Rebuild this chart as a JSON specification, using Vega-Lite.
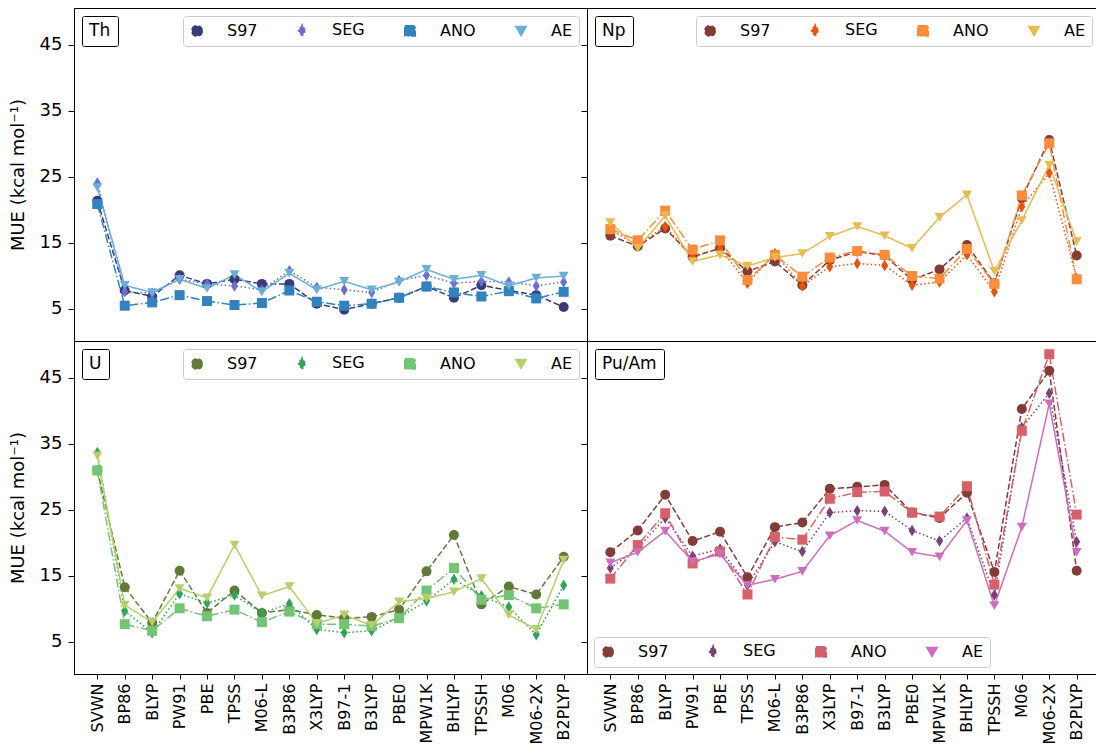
{
"$schema": "https://vega.github.io/schema/vega-lite/v6.json",
"padding": {"left": 8, "top": 7, "right": 0, "bottom": 0},
"config": {
  "font": "DejaVu Sans",
  "view": {"stroke": "black", "strokeWidth": 1},
  "axis": {"grid": false, "domainColor": "black", "tickColor": "black", "labelColor": "black", "titleColor": "black", "tickSize": 6, "labelPadding": 6, "domainWidth": 1, "tickWidth": 1, "titleFontWeight": "normal", "labelFont": "DejaVu Sans", "titleFont": "DejaVu Sans"},
  "legend": {"labelColor": "black", "labelFont": "DejaVu Sans", "titleColor": "black", "titleFont": "DejaVu Sans"}
},
"datasets": {
"th": [
{"m":"S97","f":"SVWN","v":21.4},{"m":"S97","f":"BP86","v":7.8},{"m":"S97","f":"BLYP","v":6.9},{"m":"S97","f":"PW91","v":10.1},{"m":"S97","f":"PBE","v":8.8},{"m":"S97","f":"TPSS","v":9.5},{"m":"S97","f":"M06-L","v":8.8},{"m":"S97","f":"B3P86","v":8.8},{"m":"S97","f":"X3LYP","v":5.8},{"m":"S97","f":"B97-1","v":4.9},{"m":"S97","f":"B3LYP","v":5.8},{"m":"S97","f":"PBE0","v":6.7},{"m":"S97","f":"MPW1K","v":8.4},{"m":"S97","f":"BHLYP","v":6.7},{"m":"S97","f":"TPSSH","v":8.6},{"m":"S97","f":"M06","v":7.8},{"m":"S97","f":"M06-2X","v":7.1},{"m":"S97","f":"B2PLYP","v":5.3},
{"m":"SEG","f":"SVWN","v":24.1},{"m":"SEG","f":"BP86","v":7.6},{"m":"SEG","f":"BLYP","v":7.4},{"m":"SEG","f":"PW91","v":9.5},{"m":"SEG","f":"PBE","v":8.8},{"m":"SEG","f":"TPSS","v":8.5},{"m":"SEG","f":"M06-L","v":7.9},{"m":"SEG","f":"B3P86","v":10.8},{"m":"SEG","f":"X3LYP","v":8.3},{"m":"SEG","f":"B97-1","v":7.9},{"m":"SEG","f":"B3LYP","v":7.5},{"m":"SEG","f":"PBE0","v":9.3},{"m":"SEG","f":"MPW1K","v":10.1},{"m":"SEG","f":"BHLYP","v":8.9},{"m":"SEG","f":"TPSSH","v":9.2},{"m":"SEG","f":"M06","v":9.1},{"m":"SEG","f":"M06-2X","v":8.5},{"m":"SEG","f":"B2PLYP","v":9.1},
{"m":"ANO","f":"SVWN","v":20.9},{"m":"ANO","f":"BP86","v":5.5},{"m":"ANO","f":"BLYP","v":6.0},{"m":"ANO","f":"PW91","v":7.1},{"m":"ANO","f":"PBE","v":6.2},{"m":"ANO","f":"TPSS","v":5.6},{"m":"ANO","f":"M06-L","v":5.9},{"m":"ANO","f":"B3P86","v":7.8},{"m":"ANO","f":"X3LYP","v":6.1},{"m":"ANO","f":"B97-1","v":5.5},{"m":"ANO","f":"B3LYP","v":5.8},{"m":"ANO","f":"PBE0","v":6.7},{"m":"ANO","f":"MPW1K","v":8.4},{"m":"ANO","f":"BHLYP","v":7.5},{"m":"ANO","f":"TPSSH","v":6.9},{"m":"ANO","f":"M06","v":7.7},{"m":"ANO","f":"M06-2X","v":6.6},{"m":"ANO","f":"B2PLYP","v":7.6},
{"m":"AE","f":"SVWN","v":23.4},{"m":"AE","f":"BP86","v":8.6},{"m":"AE","f":"BLYP","v":7.5},{"m":"AE","f":"PW91","v":9.5},{"m":"AE","f":"PBE","v":8.1},{"m":"AE","f":"TPSS","v":10.2},{"m":"AE","f":"M06-L","v":7.6},{"m":"AE","f":"B3P86","v":10.4},{"m":"AE","f":"X3LYP","v":7.9},{"m":"AE","f":"B97-1","v":9.2},{"m":"AE","f":"B3LYP","v":7.9},{"m":"AE","f":"PBE0","v":9.1},{"m":"AE","f":"MPW1K","v":11.0},{"m":"AE","f":"BHLYP","v":9.5},{"m":"AE","f":"TPSSH","v":10.1},{"m":"AE","f":"M06","v":8.5},{"m":"AE","f":"M06-2X","v":9.7},{"m":"AE","f":"B2PLYP","v":10.0}
],
"np": [
{"m":"S97","f":"SVWN","v":16.1},{"m":"S97","f":"BP86","v":14.5},{"m":"S97","f":"BLYP","v":17.2},{"m":"S97","f":"PW91","v":12.9},{"m":"S97","f":"PBE","v":14.2},{"m":"S97","f":"TPSS","v":10.7},{"m":"S97","f":"M06-L","v":12.2},{"m":"S97","f":"B3P86","v":8.6},{"m":"S97","f":"X3LYP","v":12.4},{"m":"S97","f":"B97-1","v":13.7},{"m":"S97","f":"B3LYP","v":13.1},{"m":"S97","f":"PBE0","v":9.4},{"m":"S97","f":"MPW1K","v":11.0},{"m":"S97","f":"BHLYP","v":14.7},{"m":"S97","f":"TPSSH","v":8.9},{"m":"S97","f":"M06","v":21.8},{"m":"S97","f":"M06-2X","v":30.6},{"m":"S97","f":"B2PLYP","v":13.1},
{"m":"SEG","f":"SVWN","v":17.0},{"m":"SEG","f":"BP86","v":14.7},{"m":"SEG","f":"BLYP","v":17.5},{"m":"SEG","f":"PW91","v":12.9},{"m":"SEG","f":"PBE","v":14.2},{"m":"SEG","f":"TPSS","v":8.9},{"m":"SEG","f":"M06-L","v":13.4},{"m":"SEG","f":"B3P86","v":8.5},{"m":"SEG","f":"X3LYP","v":11.4},{"m":"SEG","f":"B97-1","v":11.9},{"m":"SEG","f":"B3LYP","v":11.6},{"m":"SEG","f":"PBE0","v":8.6},{"m":"SEG","f":"MPW1K","v":9.1},{"m":"SEG","f":"BHLYP","v":13.2},{"m":"SEG","f":"TPSSH","v":7.6},{"m":"SEG","f":"M06","v":20.5},{"m":"SEG","f":"M06-2X","v":25.6},{"m":"SEG","f":"B2PLYP","v":9.6},
{"m":"ANO","f":"SVWN","v":17.1},{"m":"ANO","f":"BP86","v":15.4},{"m":"ANO","f":"BLYP","v":19.9},{"m":"ANO","f":"PW91","v":14.0},{"m":"ANO","f":"PBE","v":15.4},{"m":"ANO","f":"TPSS","v":9.4},{"m":"ANO","f":"M06-L","v":13.2},{"m":"ANO","f":"B3P86","v":9.9},{"m":"ANO","f":"X3LYP","v":12.8},{"m":"ANO","f":"B97-1","v":13.8},{"m":"ANO","f":"B3LYP","v":13.2},{"m":"ANO","f":"PBE0","v":10.0},{"m":"ANO","f":"MPW1K","v":9.6},{"m":"ANO","f":"BHLYP","v":14.1},{"m":"ANO","f":"TPSSH","v":8.8},{"m":"ANO","f":"M06","v":22.2},{"m":"ANO","f":"M06-2X","v":30.1},{"m":"ANO","f":"B2PLYP","v":9.5},
{"m":"AE","f":"SVWN","v":18.1},{"m":"AE","f":"BP86","v":14.2},{"m":"AE","f":"BLYP","v":19.1},{"m":"AE","f":"PW91","v":12.2},{"m":"AE","f":"PBE","v":13.2},{"m":"AE","f":"TPSS","v":11.5},{"m":"AE","f":"M06-L","v":12.8},{"m":"AE","f":"B3P86","v":13.4},{"m":"AE","f":"X3LYP","v":16.0},{"m":"AE","f":"B97-1","v":17.5},{"m":"AE","f":"B3LYP","v":16.1},{"m":"AE","f":"PBE0","v":14.2},{"m":"AE","f":"MPW1K","v":18.9},{"m":"AE","f":"BHLYP","v":22.3},{"m":"AE","f":"TPSSH","v":10.7},{"m":"AE","f":"M06","v":18.4},{"m":"AE","f":"M06-2X","v":26.8},{"m":"AE","f":"B2PLYP","v":15.2}
],
"u": [
{"m":"S97","f":"SVWN","v":31.0},{"m":"S97","f":"BP86","v":13.3},{"m":"S97","f":"BLYP","v":7.9},{"m":"S97","f":"PW91","v":15.8},{"m":"S97","f":"PBE","v":9.4},{"m":"S97","f":"TPSS","v":12.8},{"m":"S97","f":"M06-L","v":9.4},{"m":"S97","f":"B3P86","v":9.9},{"m":"S97","f":"X3LYP","v":9.1},{"m":"S97","f":"B97-1","v":8.6},{"m":"S97","f":"B3LYP","v":8.8},{"m":"S97","f":"PBE0","v":9.9},{"m":"S97","f":"MPW1K","v":15.7},{"m":"S97","f":"BHLYP","v":21.2},{"m":"S97","f":"TPSSH","v":10.7},{"m":"S97","f":"M06","v":13.4},{"m":"S97","f":"M06-2X","v":12.2},{"m":"S97","f":"B2PLYP","v":17.9},
{"m":"SEG","f":"SVWN","v":33.7},{"m":"SEG","f":"BP86","v":9.7},{"m":"SEG","f":"BLYP","v":6.4},{"m":"SEG","f":"PW91","v":12.3},{"m":"SEG","f":"PBE","v":10.9},{"m":"SEG","f":"TPSS","v":12.1},{"m":"SEG","f":"M06-L","v":9.4},{"m":"SEG","f":"B3P86","v":10.8},{"m":"SEG","f":"X3LYP","v":6.9},{"m":"SEG","f":"B97-1","v":6.4},{"m":"SEG","f":"B3LYP","v":6.7},{"m":"SEG","f":"PBE0","v":8.7},{"m":"SEG","f":"MPW1K","v":11.2},{"m":"SEG","f":"BHLYP","v":14.5},{"m":"SEG","f":"TPSSH","v":12.0},{"m":"SEG","f":"M06","v":10.3},{"m":"SEG","f":"M06-2X","v":6.1},{"m":"SEG","f":"B2PLYP","v":13.6},
{"m":"ANO","f":"SVWN","v":31.0},{"m":"ANO","f":"BP86","v":7.7},{"m":"ANO","f":"BLYP","v":6.7},{"m":"ANO","f":"PW91","v":10.1},{"m":"ANO","f":"PBE","v":8.9},{"m":"ANO","f":"TPSS","v":9.9},{"m":"ANO","f":"M06-L","v":8.0},{"m":"ANO","f":"B3P86","v":9.6},{"m":"ANO","f":"X3LYP","v":7.7},{"m":"ANO","f":"B97-1","v":7.7},{"m":"ANO","f":"B3LYP","v":7.4},{"m":"ANO","f":"PBE0","v":8.6},{"m":"ANO","f":"MPW1K","v":12.8},{"m":"ANO","f":"BHLYP","v":16.2},{"m":"ANO","f":"TPSSH","v":11.4},{"m":"ANO","f":"M06","v":12.1},{"m":"ANO","f":"M06-2X","v":10.1},{"m":"ANO","f":"B2PLYP","v":10.7},
{"m":"AE","f":"SVWN","v":33.2},{"m":"AE","f":"BP86","v":10.6},{"m":"AE","f":"BLYP","v":8.0},{"m":"AE","f":"PW91","v":13.1},{"m":"AE","f":"PBE","v":11.7},{"m":"AE","f":"TPSS","v":19.7},{"m":"AE","f":"M06-L","v":12.0},{"m":"AE","f":"B3P86","v":13.4},{"m":"AE","f":"X3LYP","v":7.8},{"m":"AE","f":"B97-1","v":9.1},{"m":"AE","f":"B3LYP","v":7.5},{"m":"AE","f":"PBE0","v":11.1},{"m":"AE","f":"MPW1K","v":11.6},{"m":"AE","f":"BHLYP","v":12.6},{"m":"AE","f":"TPSSH","v":14.6},{"m":"AE","f":"M06","v":9.1},{"m":"AE","f":"M06-2X","v":6.9},{"m":"AE","f":"B2PLYP","v":17.4}
],
"pu": [
{"m":"S97","f":"SVWN","v":18.6},{"m":"S97","f":"BP86","v":21.9},{"m":"S97","f":"BLYP","v":27.3},{"m":"S97","f":"PW91","v":20.3},{"m":"S97","f":"PBE","v":21.7},{"m":"S97","f":"TPSS","v":14.8},{"m":"S97","f":"M06-L","v":22.4},{"m":"S97","f":"B3P86","v":23.1},{"m":"S97","f":"X3LYP","v":28.2},{"m":"S97","f":"B97-1","v":28.5},{"m":"S97","f":"B3LYP","v":28.8},{"m":"S97","f":"PBE0","v":24.6},{"m":"S97","f":"MPW1K","v":23.8},{"m":"S97","f":"BHLYP","v":27.6},{"m":"S97","f":"TPSSH","v":15.6},{"m":"S97","f":"M06","v":40.3},{"m":"S97","f":"M06-2X","v":46.1},{"m":"S97","f":"B2PLYP","v":15.8},
{"m":"SEG","f":"SVWN","v":16.2},{"m":"SEG","f":"BP86","v":19.2},{"m":"SEG","f":"BLYP","v":23.8},{"m":"SEG","f":"PW91","v":18.0},{"m":"SEG","f":"PBE","v":19.1},{"m":"SEG","f":"TPSS","v":13.6},{"m":"SEG","f":"M06-L","v":20.2},{"m":"SEG","f":"B3P86","v":18.7},{"m":"SEG","f":"X3LYP","v":24.6},{"m":"SEG","f":"B97-1","v":24.9},{"m":"SEG","f":"B3LYP","v":24.8},{"m":"SEG","f":"PBE0","v":21.9},{"m":"SEG","f":"MPW1K","v":20.3},{"m":"SEG","f":"BHLYP","v":23.8},{"m":"SEG","f":"TPSSH","v":12.1},{"m":"SEG","f":"M06","v":37.5},{"m":"SEG","f":"M06-2X","v":42.7},{"m":"SEG","f":"B2PLYP","v":20.2},
{"m":"ANO","f":"SVWN","v":14.6},{"m":"ANO","f":"BP86","v":19.7},{"m":"ANO","f":"BLYP","v":24.5},{"m":"ANO","f":"PW91","v":16.9},{"m":"ANO","f":"PBE","v":18.7},{"m":"ANO","f":"TPSS","v":12.2},{"m":"ANO","f":"M06-L","v":20.9},{"m":"ANO","f":"B3P86","v":20.5},{"m":"ANO","f":"X3LYP","v":26.7},{"m":"ANO","f":"B97-1","v":27.7},{"m":"ANO","f":"B3LYP","v":27.8},{"m":"ANO","f":"PBE0","v":24.6},{"m":"ANO","f":"MPW1K","v":24.0},{"m":"ANO","f":"BHLYP","v":28.6},{"m":"ANO","f":"TPSSH","v":13.7},{"m":"ANO","f":"M06","v":37.0},{"m":"ANO","f":"M06-2X","v":48.6},{"m":"ANO","f":"B2PLYP","v":24.3},
{"m":"AE","f":"SVWN","v":17.0},{"m":"AE","f":"BP86","v":18.6},{"m":"AE","f":"BLYP","v":21.8},{"m":"AE","f":"PW91","v":17.2},{"m":"AE","f":"PBE","v":18.3},{"m":"AE","f":"TPSS","v":13.6},{"m":"AE","f":"M06-L","v":14.5},{"m":"AE","f":"B3P86","v":15.7},{"m":"AE","f":"X3LYP","v":21.1},{"m":"AE","f":"B97-1","v":23.4},{"m":"AE","f":"B3LYP","v":21.8},{"m":"AE","f":"PBE0","v":18.6},{"m":"AE","f":"MPW1K","v":17.9},{"m":"AE","f":"BHLYP","v":23.4},{"m":"AE","f":"TPSSH","v":10.5},{"m":"AE","f":"M06","v":22.4},{"m":"AE","f":"M06-2X","v":41.1},{"m":"AE","f":"B2PLYP","v":18.6}
]
},
"columns": 2,
"spacing": 0,
"bounds": "flush",
"resolve": {"scale": {"x": "independent", "y": "independent", "color": "independent", "shape": "independent", "strokeDash": "independent", "size": "independent"}, "axis": {"x": "independent", "y": "independent"}, "legend": {"color": "independent", "size": "independent"}},
"concat": [
{
 "width": 513, "height": 333,
 "data": {"name": "th"},
 "encoding": {
   "x": {"field": "f", "type": "nominal", "sort": null, "scale": {"type": "point", "padding": 0.85, "domain": ["SVWN","BP86","BLYP","PW91","PBE","TPSS","M06-L","B3P86","X3LYP","B97-1","B3LYP","PBE0","MPW1K","BHLYP","TPSSH","M06","M06-2X","B2PLYP"]}, "axis": null},
   "y": {"field": "v", "type": "quantitative", "scale": {"domain": [0.15, 50.6], "nice": false, "zero": false}, "axis": {"values": [5,15,25,35,45], "labelFontSize": 18, "title": "MUE (kcal mol⁻¹)", "titleFontSize": 18, "titlePadding": 12}}
 },
 "layer": [
  {"mark": {"type": "line", "strokeWidth": 1.5, "strokeCap": "butt"},
   "encoding": {"order": {"value": null},
     "color": {"field": "m", "type": "nominal", "scale": {"domain": ["S97","SEG","ANO","AE"], "range": ["#393b79","#6b6ecf","#3182bd","#6baed6"]}},
     "strokeDash": {"field": "m", "type": "nominal", "scale": {"domain": ["S97","SEG","ANO","AE"], "range": [[6,2.6],[1.5,2.5],[9,2.6,1.5,2.6],[1,0]]}, "legend": null}}},
  {"mark": {"type": "point", "filled": true, "size": 100, "opacity": 1},
   "encoding": {
     "color": {"field": "m", "type": "nominal", "scale": {"domain": ["S97","SEG","ANO","AE"], "range": ["#393b79","#6b6ecf","#3182bd","#6baed6"]},
       "legend": {"orient": "top-right", "direction": "horizontal", "title": null, "offset": 8, "padding": 6, "fillColor": "white", "strokeColor": "#cccccc", "cornerRadius": 3, "labelFontSize": 16, "labelOffset": 22, "columnPadding": 36, "symbolSize": 110}},
     "shape": {"field": "m", "type": "nominal", "scale": {"domain": ["S97","SEG","ANO","AE"], "range": ["circle","M0,-1.15L0.7,0L0,1.15L-0.7,0Z","square","triangle-down"]}, "legend": null}}},
  {"data": {"values": [{"p": "Th"}]},
   "mark": {"type": "point", "opacity": 0},
   "encoding": {"x": {"datum": "SVWN"}, "y": {"datum": 25}, "size": {"field": "p", "type": "nominal", "scale": {"type": "ordinal", "range": [1]},
     "legend": {"orient": "top-left", "title": "Th", "titleFontSize": 17, "titleFontWeight": "normal", "titlePadding": 0, "offset": 8, "padding": 7, "strokeColor": "black", "fillColor": "white", "cornerRadius": 2, "labelFontSize": 0, "labelOpacity": 0, "labelOffset": 0, "symbolSize": 1, "symbolOpacity": 0, "symbolStrokeWidth": 0}}}}
 ]
},
{
 "width": 513, "height": 333,
 "data": {"name": "np"},
 "encoding": {
   "x": {"field": "f", "type": "nominal", "sort": null, "scale": {"type": "point", "padding": 0.85, "domain": ["SVWN","BP86","BLYP","PW91","PBE","TPSS","M06-L","B3P86","X3LYP","B97-1","B3LYP","PBE0","MPW1K","BHLYP","TPSSH","M06","M06-2X","B2PLYP"]}, "axis": null},
   "y": {"field": "v", "type": "quantitative", "scale": {"domain": [0.15, 50.6], "nice": false, "zero": false}, "axis": {"values": [5,15,25,35,45], "labels": false, "title": null}}
 },
 "layer": [
  {"mark": {"type": "line", "strokeWidth": 1.5, "strokeCap": "butt"},
   "encoding": {"order": {"value": null},
     "color": {"field": "m", "type": "nominal", "scale": {"domain": ["S97","SEG","ANO","AE"], "range": ["#843c39","#e6550d","#fd8d3c","#e7ba52"]}},
     "strokeDash": {"field": "m", "type": "nominal", "scale": {"domain": ["S97","SEG","ANO","AE"], "range": [[6,2.6],[1.5,2.5],[9,2.6,1.5,2.6],[1,0]]}, "legend": null}}},
  {"mark": {"type": "point", "filled": true, "size": 100, "opacity": 1},
   "encoding": {
     "color": {"field": "m", "type": "nominal", "scale": {"domain": ["S97","SEG","ANO","AE"], "range": ["#843c39","#e6550d","#fd8d3c","#e7ba52"]},
       "legend": {"orient": "top-right", "direction": "horizontal", "title": null, "offset": 8, "padding": 6, "fillColor": "white", "strokeColor": "#cccccc", "cornerRadius": 3, "labelFontSize": 16, "labelOffset": 22, "columnPadding": 36, "symbolSize": 110}},
     "shape": {"field": "m", "type": "nominal", "scale": {"domain": ["S97","SEG","ANO","AE"], "range": ["circle","M0,-1.15L0.7,0L0,1.15L-0.7,0Z","square","triangle-down"]}, "legend": null}}},
  {"data": {"values": [{"p": "Np"}]},
   "mark": {"type": "point", "opacity": 0},
   "encoding": {"x": {"datum": "SVWN"}, "y": {"datum": 25}, "size": {"field": "p", "type": "nominal", "scale": {"type": "ordinal", "range": [1]},
     "legend": {"orient": "top-left", "title": "Np", "titleFontSize": 17, "titleFontWeight": "normal", "titlePadding": 0, "offset": 8, "padding": 7, "strokeColor": "black", "fillColor": "white", "cornerRadius": 2, "labelFontSize": 0, "labelOpacity": 0, "labelOffset": 0, "symbolSize": 1, "symbolOpacity": 0, "symbolStrokeWidth": 0}}}}
 ]
},
{
 "width": 513, "height": 333,
 "data": {"name": "u"},
 "encoding": {
   "x": {"field": "f", "type": "nominal", "sort": null, "scale": {"type": "point", "padding": 0.85, "domain": ["SVWN","BP86","BLYP","PW91","PBE","TPSS","M06-L","B3P86","X3LYP","B97-1","B3LYP","PBE0","MPW1K","BHLYP","TPSSH","M06","M06-2X","B2PLYP"]}, "axis": {"title": null, "labelAngle": -90, "labelFontSize": 16, "labelPadding": 4, "tickSize": 5}},
   "y": {"field": "v", "type": "quantitative", "scale": {"domain": [0.15, 50.6], "nice": false, "zero": false}, "axis": {"values": [5,15,25,35,45], "labelFontSize": 18, "title": "MUE (kcal mol⁻¹)", "titleFontSize": 18, "titlePadding": 12}}
 },
 "layer": [
  {"mark": {"type": "line", "strokeWidth": 1.5, "strokeCap": "butt"},
   "encoding": {"order": {"value": null},
     "color": {"field": "m", "type": "nominal", "scale": {"domain": ["S97","SEG","ANO","AE"], "range": ["#637939","#31a354","#74c476","#b5cf6b"]}},
     "strokeDash": {"field": "m", "type": "nominal", "scale": {"domain": ["S97","SEG","ANO","AE"], "range": [[6,2.6],[1.5,2.5],[9,2.6,1.5,2.6],[1,0]]}, "legend": null}}},
  {"mark": {"type": "point", "filled": true, "size": 100, "opacity": 1},
   "encoding": {
     "color": {"field": "m", "type": "nominal", "scale": {"domain": ["S97","SEG","ANO","AE"], "range": ["#637939","#31a354","#74c476","#b5cf6b"]},
       "legend": {"orient": "top-right", "direction": "horizontal", "title": null, "offset": 8, "padding": 6, "fillColor": "white", "strokeColor": "#cccccc", "cornerRadius": 3, "labelFontSize": 16, "labelOffset": 22, "columnPadding": 36, "symbolSize": 110}},
     "shape": {"field": "m", "type": "nominal", "scale": {"domain": ["S97","SEG","ANO","AE"], "range": ["circle","M0,-1.15L0.7,0L0,1.15L-0.7,0Z","square","triangle-down"]}, "legend": null}}},
  {"data": {"values": [{"p": "U"}]},
   "mark": {"type": "point", "opacity": 0},
   "encoding": {"x": {"datum": "SVWN"}, "y": {"datum": 25}, "size": {"field": "p", "type": "nominal", "scale": {"type": "ordinal", "range": [1]},
     "legend": {"orient": "top-left", "title": "U", "titleFontSize": 17, "titleFontWeight": "normal", "titlePadding": 0, "offset": 8, "padding": 7, "strokeColor": "black", "fillColor": "white", "cornerRadius": 2, "labelFontSize": 0, "labelOpacity": 0, "labelOffset": 0, "symbolSize": 1, "symbolOpacity": 0, "symbolStrokeWidth": 0}}}}
 ]
},
{
 "width": 513, "height": 333,
 "data": {"name": "pu"},
 "encoding": {
   "x": {"field": "f", "type": "nominal", "sort": null, "scale": {"type": "point", "padding": 0.85, "domain": ["SVWN","BP86","BLYP","PW91","PBE","TPSS","M06-L","B3P86","X3LYP","B97-1","B3LYP","PBE0","MPW1K","BHLYP","TPSSH","M06","M06-2X","B2PLYP"]}, "axis": {"title": null, "labelAngle": -90, "labelFontSize": 16, "labelPadding": 4, "tickSize": 5}},
   "y": {"field": "v", "type": "quantitative", "scale": {"domain": [0.15, 50.6], "nice": false, "zero": false}, "axis": {"values": [5,15,25,35,45], "labels": false, "title": null}}
 },
 "layer": [
  {"mark": {"type": "line", "strokeWidth": 1.5, "strokeCap": "butt"},
   "encoding": {"order": {"value": null},
     "color": {"field": "m", "type": "nominal", "scale": {"domain": ["S97","SEG","ANO","AE"], "range": ["#843c39","#7b4173","#d6616b","#ce6dbd"]}},
     "strokeDash": {"field": "m", "type": "nominal", "scale": {"domain": ["S97","SEG","ANO","AE"], "range": [[6,2.6],[1.5,2.5],[9,2.6,1.5,2.6],[1,0]]}, "legend": null}}},
  {"mark": {"type": "point", "filled": true, "size": 100, "opacity": 1},
   "encoding": {
     "color": {"field": "m", "type": "nominal", "scale": {"domain": ["S97","SEG","ANO","AE"], "range": ["#843c39","#7b4173","#d6616b","#ce6dbd"]},
       "legend": {"orient": "bottom-left", "direction": "horizontal", "title": null, "offset": 7, "padding": 6, "fillColor": "white", "strokeColor": "#cccccc", "cornerRadius": 3, "labelFontSize": 16, "labelOffset": 22, "columnPadding": 36, "symbolSize": 110}},
     "shape": {"field": "m", "type": "nominal", "scale": {"domain": ["S97","SEG","ANO","AE"], "range": ["circle","M0,-1.15L0.7,0L0,1.15L-0.7,0Z","square","triangle-down"]}, "legend": null}}},
  {"data": {"values": [{"p": "Pu/Am"}]},
   "mark": {"type": "point", "opacity": 0},
   "encoding": {"x": {"datum": "SVWN"}, "y": {"datum": 25}, "size": {"field": "p", "type": "nominal", "scale": {"type": "ordinal", "range": [1]},
     "legend": {"orient": "top-left", "title": "Pu/Am", "titleFontSize": 17, "titleFontWeight": "normal", "titlePadding": 0, "offset": 8, "padding": 7, "strokeColor": "black", "fillColor": "white", "cornerRadius": 2, "labelFontSize": 0, "labelOpacity": 0, "labelOffset": 0, "symbolSize": 1, "symbolOpacity": 0, "symbolStrokeWidth": 0}}}}
 ]
}
]
}
